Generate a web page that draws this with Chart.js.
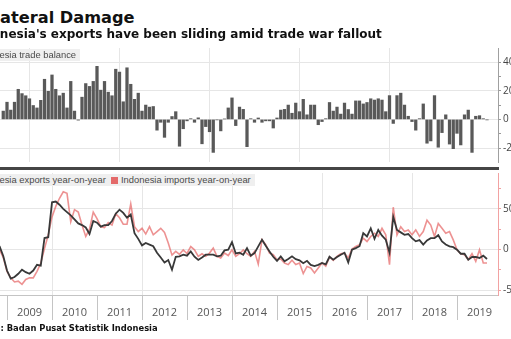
<!DOCTYPE html>
<html>
<head>
<meta charset="utf-8">
<script src="https://cdn.jsdelivr.net/npm/chart.js@4.4.1/dist/chart.umd.min.js"></script>
<style>
  html, body { margin: 0; padding: 0; background: #fff; overflow: hidden; }
  body { width: 511px; height: 339px; position: relative; }
  .txt { position: absolute; white-space: nowrap; }
  #title { left: -34px; top: 9px; font: bold 16.2px/17px "DejaVu Sans", sans-serif; color: #111; }
  #subtitle { left: -30px; top: 28px; font: bold 12px/12px "DejaVu Sans", sans-serif; color: #111; }
  #source { left: -32px; top: 323px; font: bold 9.3px/9px "DejaVu Sans Condensed", "DejaVu Sans", sans-serif; color: #111; }
  .tag { position: absolute; background: #efefef; color: #4a4a4a; white-space: nowrap;
         font: 9.4px/12px "Liberation Sans", Arial, sans-serif; padding: 0 4px; }
  #balanceTag { left: -28px; top: 49px; }
  #legend { left: -38px; top: 174px; }
  .sw { display: inline-block; width: 7px; height: 7px; margin-right: 3px; vertical-align: -0.5px; }
  #wrap { position: absolute; left: -40px; top: 0; width: 572px; height: 339px; }
  #wrap canvas { position: absolute; left: 0; }
  #divider { position: absolute; left: 0; top: 167px; width: 499px; height: 3px; background: #454545; }
</style>
</head>
<body>
<div id="wrap">
  <canvas id="balance" width="572" height="130" style="top:40px"></canvas>
  <canvas id="growth" width="572" height="174" style="top:165px"></canvas>
</div>
<div id="divider"></div>
<div class="txt" id="title">Collateral Damage</div>
<div class="txt" id="subtitle">Indonesia's exports have been sliding amid trade war fallout</div>
<div class="tag" id="balanceTag">Indonesia trade balance</div>
<div class="tag" id="legend"><span class="sw" style="background:#444"></span>Indonesia exports year-on-year&nbsp;&nbsp;<span class="sw" style="background:#e46a6a"></span>Indonesia imports year-on-year</div>
<div class="txt" id="source">Source: Badan Pusat Statistik Indonesia</div>

<script>
// monthly series, first entry is Nov 2008
const firstMonth = 2008 + 10 / 12;

const tradeBalance = [
  null, 5.8, 12, 6.5, 12, 21, 18, 16.5, 14.4, 9.7, 8, 13.3, 28,
  19.6, 31, 21, 16.5, 18.3, 8, 26.5, 5.8, -0.5, 15.5, 25, 23,
  26.5, 37, 20.4, 26.5, 19, 16.5, 35, 33, 12.3, 36, 24.5, 14,
  18.3, 5.8, 10, 8.6, 9, -7.5, -2, -12.5, -2, 2, 5.4, -18.7,
  -6.5, -1, 0.5, -2, 1.1, -17, -5, -8.6, -23, -0.3, -8, 0.3,
  8, 15, -4.3, 8.6, 7, -19, 0.5, -2, 1, -2, -1, -1,
  -6, 1, 6.5, 7, 10, 4.3, 11.4, 5.4, 14, 3.2, 10, 10,
  -3.7, -1.5, 0.5, 11.8, 5.8, 8.6, 3.7, 11.4, 6.9, 3.7, 12.9, 12.9,
  10.8, 11.8, 14.4, 13.5, 14.4, 13.5, 5.4, 16.6, -2.8, 16.6, 18.3, 10,
  2.2, -1.5, -7.5, 0.5, 10.8, -16.6, -15, 16.6, -19.4, -9.2, 3.2, -17.2,
  -20.4, -9.7, -17.8, 3.2, 6.5, -23, 2.2, 2.6, 0.5, -0.3
];

const exportsYoY = [
  4, -8, -26, -36, -34, -30, -25, -28, -30, -26, -19, -20, 14,
  15, 58, 59, 55, 50, 46, 42, 37, 32, 30, 27, 19,
  35, 33, 28, 30, 30, 35, 44, 49, 45, 39, 43, 20,
  13, 5, 8, 6, 4, -4, -10, -16, -13, -25, -9, -8.5,
  -6.5, -7.7, -2.4, -9, -13, -10, -6.5, -6.5, -6.5, -8.5, -7.7, -1.2,
  -0.4, 9, -5, -4, -6.5, 1.6, -7.7, -4.5, 3.7, 12, 4.5, -2.4,
  -9, -14, -8.5, -14.6, -11.8, -8.5, -12, -13.4, -17, -14, -19, -20.5,
  -19, -16.7, -18.5, -9, -12.6, -9.3, -6.5, -4, -16, -0.4, 1.6, 4,
  20, 16, 26, 13, 24, 17, 12, -4, 40, 24, 21, 18,
  19, 14, 10, 11.5, 6, 11, 13.8, 13.8, 17.5, 9.8, 6, 3.7,
  2.8, -0.4, -5.3, -5.3, -12.6, -9.3, -9.3, -10.5, -7.7, -11.8
];

const importsYoY = [
  0, -10, -27, -35, -40, -39, -43, -37, -35, -35, -27, -17, 1,
  18, 40, 53, 63, 71, 69, 34, 49, 46, 30, 16, 25,
  46, 38, 28, 27, 33, 30, 44, 39, 31, 31, 56, 28,
  22, 26, 19, 28, 18, 22, 26, 21, 8, -7, -2.4, -6,
  -0.5, -5, 3.5, -0.5, -8.5, -5.3, -8.5, -4.5, 1.6, -8.5, -10.5, -4.5,
  -7.5, -0.5, -8.5, -5.3, -0.5, -5.3, -8.5, -2.4, -18, 12, 6, -4.5,
  -6.5, -12.6, -11.8, -16.7, -18.7, -13.4, -18.5, -16.7, -29.7, -21, -22.8, -28.9,
  -22.8, -16.7, -20.7, -9.3, -13.4, -8.5, -5.3, -4.5, -10.5, 0.4, 3.7, 5.7,
  13.8, 9.8, 16, 20, 16, 26, 18, -18.7, 52, 18, 28, 22,
  24, 18, 24, 16, 22, 36, 30, 16, 32, 26, 20, 22,
  11.8, -0.4, -5.3, -6.5, -12.6, -5.3, -14.6, -0.4, -16.7, -16.7
];

const years = [2008, 2009, 2010, 2011, 2012, 2013, 2014, 2015, 2016, 2017, 2018, 2019];
const balanceTicks = [-20, 0, 20, 40];
const growthTicks = [-50, 0, 50];

const xMin = 2008;
const xMax = 2019.911;

const monthX = i => firstMonth + i / 12;
const points = arr => arr.map((v, i) => ({ x: monthX(i), y: v }));

const gridColor = '#e6e6e6';
const tickFont = { family: 'Open Sans', size: 10 };

// every year boundary gets a tick; only even years draw a grid line
const yearGrid = ctx => (ctx.tick && ctx.tick.value % 2 === 0) ? gridColor : 'rgba(0,0,0,0)';

function minorTicks(lo, hi, step) {
  const out = [];
  for (let v = lo; v <= hi; v += step) out.push({ value: v });
  return out;
}

new Chart(document.getElementById('balance'), {
  type: 'bar',
  data: {
    datasets: [{
      data: points(tradeBalance),
      backgroundColor: '#595959',
      barThickness: 2.6,
      borderWidth: 0
    }]
  },
  options: {
    responsive: false,
    animation: false,
    devicePixelRatio: 1,
    layout: { padding: { left: 2, top: 4, bottom: 2, right: 0 } },
    plugins: { legend: { display: false }, tooltip: { enabled: false } },
    scales: {
      x: {
        type: 'linear',
        min: xMin,
        max: xMax,
        offset: false,
        afterBuildTicks: axis => { axis.ticks = years.map(y => ({ value: y })); },
        ticks: { display: false },
        grid: { color: yearGrid, drawTicks: false },
        border: { display: false }
      },
      y: {
        position: 'right',
        min: -29.7,
        max: 49.8,
        afterBuildTicks: axis => { axis.ticks = minorTicks(-20, 40, 10); },
        afterFit: axis => { axis.width = 34; },
        ticks: {
          callback: v => balanceTicks.includes(v) ? v : '',
          font: tickFont,
          color: '#444',
          padding: 2
        },
        grid: {
          color: ctx => (ctx.tick && balanceTicks.includes(ctx.tick.value)) ? gridColor : 'rgba(0,0,0,0)',
          tickColor: '#999',
          tickLength: 3
        },
        border: { color: '#a0a0a0' }
      }
    }
  }
});

const halfYears = [];
years.forEach(y => { halfYears.push({ value: y }, { value: y + 0.5 }); });

new Chart(document.getElementById('growth'), {
  type: 'line',
  data: {
    datasets: [{
      data: points(exportsYoY),
      borderColor: '#383838',
      borderWidth: 1.8,
      pointRadius: 0,
      tension: 0
    }, {
      data: points(importsYoY),
      borderColor: 'rgba(230, 104, 104, 0.72)',
      borderWidth: 1.6,
      pointRadius: 0,
      tension: 0
    }]
  },
  options: {
    responsive: false,
    animation: false,
    devicePixelRatio: 1,
    layout: { padding: { left: 2, top: 5, bottom: 14, right: 0 } },
    plugins: { legend: { display: false }, tooltip: { enabled: false } },
    scales: {
      x: {
        type: 'linear',
        min: xMin,
        max: xMax,
        afterBuildTicks: axis => { axis.ticks = halfYears.slice(); },
        afterFit: axis => { axis.height = 30; },
        ticks: {
          autoSkip: false,
          maxRotation: 0,
          callback: v => (v % 1 === 0.5) ? String(Math.floor(v)) : '',
          font: { family: 'Open Sans', size: 11 },
          color: '#555',
          padding: -14
        },
        grid: {
          color: yearGrid,
          tickColor: ctx => (ctx.tick && ctx.tick.value % 1 === 0) ? '#c4c4c4' : 'rgba(0,0,0,0)',
          tickLength: 25
        },
        border: { color: '#c4c4c4' }
      },
      y: {
        position: 'right',
        min: -56.1,
        max: 94.1,
        afterBuildTicks: axis => { axis.ticks = minorTicks(-50, 75, 25); },
        afterFit: axis => { axis.width = 34; },
        ticks: {
          callback: v => growthTicks.includes(v) ? v : '',
          font: tickFont,
          color: '#444',
          padding: 2
        },
        grid: {
          color: ctx => (ctx.tick && growthTicks.includes(ctx.tick.value)) ? gridColor : 'rgba(0,0,0,0)',
          tickColor: '#f0a0a0',
          tickLength: 3
        },
        border: { color: '#f2a2a2' }
      }
    }
  }
});
</script>
</body>
</html>
